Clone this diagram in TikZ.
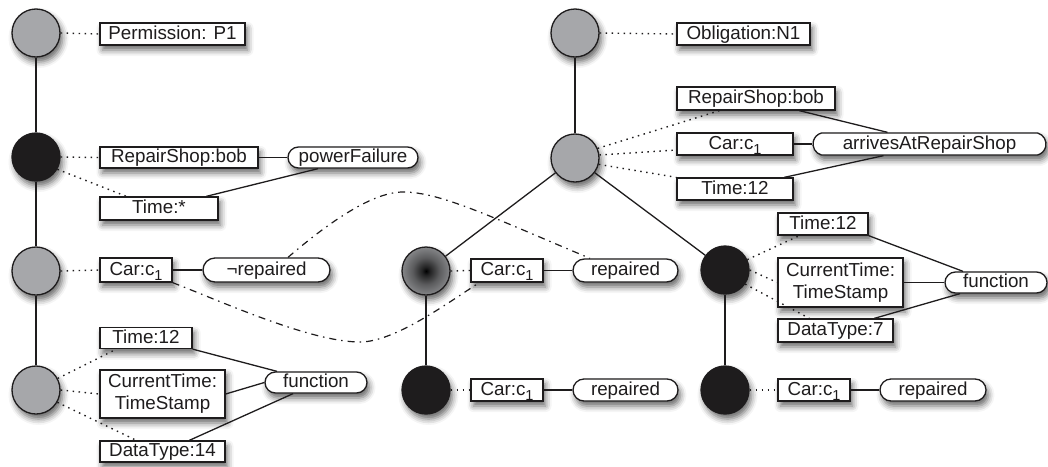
\documentclass[tikz,border=0pt]{standalone}
\usepackage{fontspec}
\setmainfont{Liberation Sans}
\usetikzlibrary{shapes.misc,shadows.blur}
\definecolor{ng}{RGB}{166,167,170}
\definecolor{nk}{RGB}{30,28,29}
\pgfdeclareradialshading{sphshade}{\pgfpoint{0bp}{0bp}}{color(0bp)=(black); color(4bp)=(black!80!ng); color(14bp)=(black!45!ng); color(25bp)=(black!20!ng); color(50bp)=(black!20!ng)}
\newcommand\cone{c\raisebox{-5pt}{\fontsize{14.5}{14.5}\selectfont 1}}
\tikzset{
  shad/.style={blur shadow={shadow xshift=2.5pt, shadow yshift=-5pt, shadow blur radius=6pt, shadow opacity=60}},
  circ/.style={circle, minimum size=48pt, inner sep=0pt, draw=nk, line width=1.3pt, shad},
  gcirc/.style={circ, fill=ng},
  kcirc/.style={circ, fill=nk},
  scirc/.style={circ, shading=sphshade},
  txt/.style={font=\fontsize{18.8}{22}\selectfont, text=nk},
  one/.style={txt, text height=13pt, text depth=3pt},
  box/.style={rectangle, draw=nk, fill=white, line width=1.3pt, inner sep=0pt, shad},
  pill/.style={rounded rectangle, draw=nk, fill=white, line width=1.3pt, inner sep=0pt, shad, one},
  solidl/.style={draw=nk, line width=1.3pt},
  dotl/.style={draw=nk, line width=1.4pt, dash pattern=on 1.5pt off 4.5pt},
  dashdot/.style={draw=nk, line width=1.2pt, dash pattern=on 7pt off 5pt on 1.5pt off 5pt}
}
\begin{document}
\begin{tikzpicture}[x=1pt,y=-1pt]
\useasboundingbox (0,0) rectangle (1048,466);
% left column
\node[gcirc] (c1) at (36,33) {};
\node[kcirc] (c2) at (36,157) {};
\node[gcirc] (c3) at (36,271) {};
\node[gcirc] (c4) at (36,390) {};
\node[box,one,minimum width=145pt,minimum height=22pt] (perm) at (172.5,34) {Permission: P1};
\node[box,one,minimum width=158pt,minimum height=21pt] (rsL) at (179,157.5) {RepairShop:bob};
\node[pill,minimum width=130pt,minimum height=21pt] (pf) at (353,157.5) {powerFailure};
\node[box,one,minimum width=118pt,minimum height=23pt] (tstar) at (159,208.5) {Time:*};
\node[box,one,minimum width=72pt,minimum height=24pt] (cL) at (136,270) {Car:\cone};
\node[pill,minimum width=127pt,minimum height=24pt] (nr) at (266.5,270) {¬repaired};
\node[box,one,minimum width=92pt,minimum height=21pt] (t12L) at (146,338) {Time:12};
\node[box,txt,align=center,minimum width=125pt,minimum height=48pt] (cuL) at (162.5,394) {CurrentTime:\\TimeStamp};
\node[box,one,minimum width=125pt,minimum height=21pt] (dt14) at (162.5,451.5) {DataType:14};
\node[pill,minimum width=102pt,minimum height=21pt] (fnL) at (316,382.5) {function};
% middle
\node[gcirc] (m1) at (575,33) {};
\node[gcirc] (m2) at (575,158) {};
\node[scirc] (m3) at (426,271) {};
\node[kcirc] (m4) at (426,390) {};
\node[box,one,minimum width=133pt,minimum height=22pt] (obl) at (743.5,34) {Obligation:N1};
\node[box,one,minimum width=158pt,minimum height=23pt] (rsR) at (756,98.5) {RepairShop:bob};
\node[box,one,minimum width=116pt,minimum height=22pt] (carR) at (735,144) {Car:\cone};
\node[pill,rounded rectangle arc length=150,minimum width=233pt,minimum height=22pt] (arr) at (929.5,144) {arrivesAtRepairShop};
\node[box,one,minimum width=116pt,minimum height=22pt] (tR1) at (735,189) {Time:12};
\node[box,one,minimum width=72pt,minimum height=23pt] (carM) at (507,270.5) {Car:\cone};
\node[pill,minimum width=105pt,minimum height=23pt] (repM) at (625.5,270.5) {repaired};
\node[box,one,minimum width=72pt,minimum height=22pt] (carMb) at (507,390) {Car:\cone};
\node[pill,minimum width=105pt,minimum height=22pt] (repMb) at (625.5,390) {repaired};
% right
\node[kcirc] (r1) at (725,270) {};
\node[kcirc] (r2) at (725,390) {};
\node[box,one,minimum width=90pt,minimum height=22pt] (tR2) at (823,224) {Time:12};
\node[box,txt,align=center,minimum width=125pt,minimum height=49pt] (cuR) at (840.5,282.5) {CurrentTime:\\TimeStamp};
\node[pill,minimum width=102pt,minimum height=21pt] (fnR) at (996,282.5) {function};
\node[box,one,minimum width=115pt,minimum height=23pt] (dt7) at (835.5,330.5) {DataType:7};
\node[box,one,minimum width=72pt,minimum height=22pt] (carRb) at (814,390) {Car:\cone};
\node[pill,minimum width=106pt,minimum height=22pt] (repRb) at (933,390) {repaired};
% tree edges
\draw[solidl] (c1) -- (c2);
\draw[solidl] (c2) -- (c3);
\draw[solidl] (c3) -- (c4);
\draw[solidl] (m1) -- (m2);
\draw[solidl] (m2) -- (m3);
\draw[solidl] (m2) -- (r1);
\draw[solidl] (m3) -- (m4);
\draw[solidl] (r1) -- (r2);
% dotted
\draw[dotl] (c1.east) -- (perm.west);
\draw[dotl] (c2.east) -- (rsL.west);
\draw[dotl] (c2.-30) -- ([xshift=27pt]tstar.north west);
\draw[dotl] (c3.east) -- (cL.west);
\draw[dotl] (c4.28) -- ([xshift=17pt]t12L.south west);
\draw[dotl] (c4.east) -- (cuL.west);
\draw[dotl] (c4.-30) -- ([xshift=37pt]dt14.north west);
\draw[dotl] (m1.east) -- (obl.west);
\draw[dotl] (m2.23) -- ([xshift=43pt]rsR.south west);
\draw[dotl] (m2.7) -- ([yshift=-6pt]carR.west);
\draw[dotl] (m2.-15) -- (tR1.north west);
\draw[dotl] (m3.east) -- (carM.west);
\draw[dotl] (m4.east) -- (carMb.west);
\draw[dotl] (r1.25) -- ([xshift=22pt]tR2.south west);
\draw[dotl] (r1.east) -- (cuR.west);
\draw[dotl] (r1.-35) -- ([xshift=32pt]dt7.north west);
\draw[dotl] (r2.east) -- (carRb.west);
% solid attribute links
\draw[solidl] (rsL.east) -- (pf.west);
\draw[solidl] ([xshift=107pt]tstar.north west) -- ([xshift=-35pt]pf.south);
\draw[solidl] (cL.east) -- (nr.west);
\draw[solidl] (t12L.south east) -- ([xshift=-39pt]fnL.north);
\draw[solidl] (cuL.east) -- (fnL.west);
\draw[solidl] ([xshift=90pt]dt14.north west) -- ([xshift=-23pt]fnL.south);
\draw[solidl] ([xshift=123pt]rsR.south west) -- ([xshift=-42pt]arr.north);
\draw[solidl] (carR.east) -- (arr.west);
\draw[solidl] ([xshift=108pt]tR1.north west) -- ([xshift=-46pt]arr.south);
\draw[solidl] (carM.east) -- (repM.west);
\draw[solidl] (carMb.east) -- (repMb.west);
\draw[solidl] (tR2.south east) -- ([xshift=-33pt]fnR.north);
\draw[solidl] (cuR.east) -- (fnR.west);
\draw[solidl] ([xshift=97pt]dt7.north west) -- ([xshift=-36pt]fnR.south);
\draw[solidl] (carRb.east) -- (repRb.west);
% dash-dot curves
\draw[dashdot] (cL.south east) .. controls +(47,18) and +(-50,0) .. (360,342)
  .. controls +(35,0) and +(-30,19) .. ([xshift=9pt]carM.south west);
\draw[dashdot] ([xshift=21.5pt]nr.north) .. controls +(35,-30) and +(-33,0) .. (403,192)
  .. controls +(37,0) and +(-100,-42) .. ([xshift=-35.5pt]repM.north);
\end{tikzpicture}
\end{document}
